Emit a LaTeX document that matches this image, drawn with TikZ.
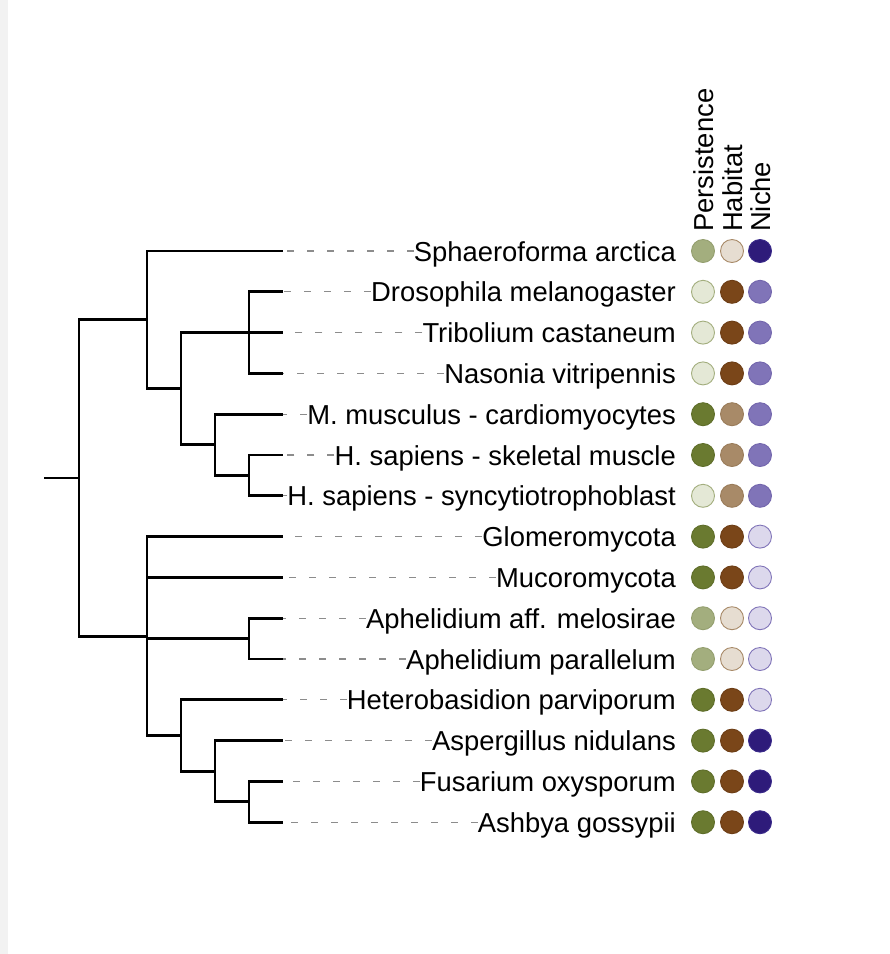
\documentclass[tikz,border=0pt]{standalone}
\usepackage{fontspec}
\setmainfont{Liberation Sans}
\definecolor{stripgray}{HTML}{F2F2F2}
\definecolor{dashgray}{HTML}{8C8C8C}
\definecolor{pA}{HTML}{6A7A30}\definecolor{pAb}{HTML}{5F6E2A}
\definecolor{pB}{HTML}{A3AE7E}\definecolor{pBb}{HTML}{949F6F}
\definecolor{pC}{HTML}{E4E8D6}\definecolor{pCb}{HTML}{A3AE7E}
\definecolor{hA}{HTML}{7A4619}\definecolor{hAb}{HTML}{6D3E16}
\definecolor{hB}{HTML}{A88A68}\definecolor{hBb}{HTML}{9A7C5A}
\definecolor{hC}{HTML}{E6DDD1}\definecolor{hCb}{HTML}{A88A68}
\definecolor{nA}{HTML}{2E1B7A}\definecolor{nAb}{HTML}{3A2A8A}
\definecolor{nB}{HTML}{8074B8}\definecolor{nBb}{HTML}{7366AD}
\definecolor{nC}{HTML}{DCD8EC}\definecolor{nCb}{HTML}{8074B8}
\begin{document}
\begin{tikzpicture}[x=1pt,y=-1pt,
  br/.style={line width=2.9pt, line join=miter, line cap=butt, black},
  dashln/.style={draw=dashgray, line width=1.3pt, dash pattern=on 7pt off 13pt},
  lab/.style={anchor=base east, inner sep=0pt, font=\fontsize{27.4}{32}\selectfont},
  head/.style={rotate=90, anchor=base west, inner sep=0pt, font=\fontsize{27.4}{32}\selectfont},
  dot/.style={circle, minimum size=23pt, inner sep=0pt, line width=0.9pt},
  P1/.style={dot, fill=pA, draw=pAb}, P2/.style={dot, fill=pB, draw=pBb}, P3/.style={dot, fill=pC, draw=pCb},
  H1/.style={dot, fill=hA, draw=hAb}, H2/.style={dot, fill=hB, draw=hBb}, H3/.style={dot, fill=hC, draw=hCb},
  N1/.style={dot, fill=nA, draw=nAb}, N2/.style={dot, fill=nB, draw=nBb}, N3/.style={dot, fill=nC, draw=nCb}]
\useasboundingbox (0,0) rectangle (890,954);
\fill[white] (0,0) rectangle (890,954);
\fill[stripgray] (0,0) rectangle (8,954);

% headers
\node[head] (hp) at (713,232) {Persistence};
\node[head] (hh) at (742,232) {Habitat};
\node[head] (hn) at (770,232) {Niche};

% rows
\foreach \i/\yy/\lab/\pc/\hc/\nc in {
  1/251/Sphaeroforma arctica/P2/H3/N1,
  2/291.8/Drosophila melanogaster/P3/H1/N2,
  3/332.6/Tribolium castaneum/P3/H1/N2,
  4/373.4/Nasonia vitripennis/P3/H1/N2,
  5/414.2/M. musculus - cardiomyocytes/P1/H2/N2,
  6/455/H. sapiens - skeletal muscle/P1/H2/N2,
  7/495.8/H. sapiens - syncytiotrophoblast/P3/H2/N2,
  8/536.6/Glomeromycota/P1/H1/N3,
  9/577.4/Mucoromycota/P1/H1/N3,
  10/618.2/Aphelidium aff. melosirae/P2/H3/N3,
  11/659/Aphelidium parallelum/P2/H3/N3,
  12/699.8/Heterobasidion parviporum/P1/H1/N3,
  13/740.6/Aspergillus nidulans/P1/H1/N1,
  14/781.4/Fusarium oxysporum/P1/H1/N1,
  15/822.2/Ashbya gossypii/P1/H1/N1}{
  \coordinate (t\i) at (283,\yy);
  \node[lab] (l\i) at (676,\yy+10) {\lab};
  \draw[dashln] (l\i.west |- t\i) -- (t\i);
  \node[\pc] (p\i) at (703,\yy) {};
  \node[\hc] (h\i) at (732,\yy) {};
  \node[\nc] (n\i) at (760,\yy) {};
}

% internal nodes
\coordinate (stub) at (44,477.95);
\coordinate (R) at (79,477.95);
\coordinate (A) at (147,319.85);
\coordinate (B) at (181,388.7);
\coordinate (C) at (249,332.6);
\coordinate (D) at (215,444.8);
\coordinate (E) at (249,475.4);
\coordinate (F) at (147,636.05);
\coordinate (G) at (249,638.6);
\coordinate (H) at (181,735.5);
\coordinate (I) at (215,771.2);
\coordinate (J) at (249,801.8);

\draw[br] (stub) -- (R);
\draw[br] (R) |- (A);
\draw[br] (R) |- (F);
\draw[br] (A) |- (t1);
\draw[br] (A) |- (B);
\draw[br] (B) |- (C);
\draw[br] (B) |- (D);
\draw[br] (C) |- (t2);
\draw[br] (C) -- (t3);
\draw[br] (C) |- (t4);
\draw[br] (D) |- (t5);
\draw[br] (D) |- (E);
\draw[br] (E) |- (t6);
\draw[br] (E) |- (t7);
\draw[br] (F) |- (t8);
\draw[br] (F) |- (t9);
\draw[br] (F) |- (G);
\draw[br] (F) |- (H);
\draw[br] (G) |- (t10);
\draw[br] (G) |- (t11);
\draw[br] (H) |- (t12);
\draw[br] (H) |- (I);
\draw[br] (I) |- (t13);
\draw[br] (I) |- (J);
\draw[br] (J) |- (t14);
\draw[br] (J) |- (t15);
\end{tikzpicture}
\end{document}
